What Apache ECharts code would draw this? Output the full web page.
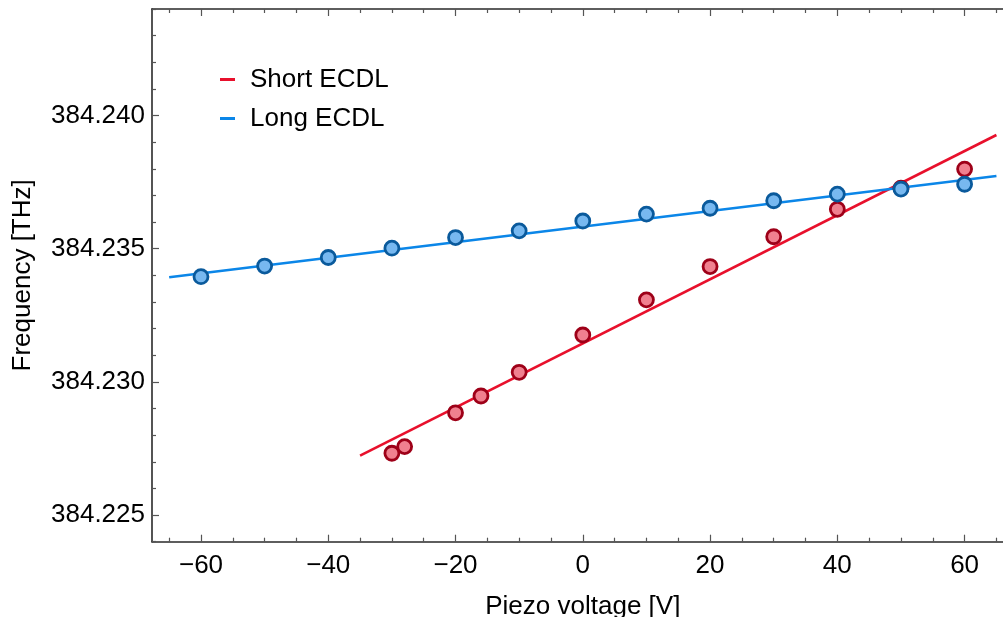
<!DOCTYPE html>
<html>
<head>
<meta charset="utf-8">
<script src="https://cdn.jsdelivr.net/npm/echarts@6/dist/echarts.min.js"></script>
<style>
html, body { margin: 0; padding: 0; overflow: hidden; background: #fff; }
#chart { width: 1020px; height: 617px; }
</style>
</head>
<body>
<div id="chart"></div>
<script>
// ---- data ----
const shortX = [-30, -28, -20, -16, -10, 0, 10, 20, 30, 40, 50, 60];
const shortY = [384.22732, 384.22757, 384.22884, 384.22947, 384.23036, 384.23176,
                384.23308, 384.23433, 384.23545, 384.23648, 384.23727, 384.23799];
const longX = [-60, -50, -40, -30, -20, -10, 0, 10, 20, 30, 40, 50, 60];
const longY = [384.23395, 384.23435, 384.23467, 384.23502, 384.23542, 384.23567, 384.23604,
               384.23630, 384.23652, 384.23680, 384.23705, 384.23724, 384.23742];
const shortFitX = [-35, 65];
const shortFitY = [384.22723, 384.23927];
const longFitX = [-65, 65];
const longFitY = [384.23393, 384.23773];

const xMajorTicks = [-60, -40, -20, 0, 20, 40, 60];
const xMinorTicks = [-65, -55, -50, -45, -35, -30, -25, -15, -10, -5, 5, 10, 15, 25, 30, 35, 45, 50, 55, 65];
const yMajorTicks = [384.225, 384.230, 384.235, 384.240];
const yMinorTicks = [384.224, 384.226, 384.227, 384.228, 384.229, 384.231, 384.232, 384.233, 384.234,
                     384.236, 384.237, 384.238, 384.239, 384.241, 384.242, 384.243, 384.244];

const names = ['Short ECDL', 'Long ECDL'];
const xName = 'Piezo voltage [V]';
const yName = 'Frequency [THz]';

// ---- styling ----
const FONT = 'Liberation Sans, Arial, sans-serif';
const RED_LINE = '#e8102c', RED_FILL = '#f0808f', RED_EDGE = '#9e0018';
const BLUE_LINE = '#0b86e8', BLUE_FILL = '#77b8f0', BLUE_EDGE = '#0a5a9c';
const AX = '#2a2a2a', TK = '#555';

const pairs = (xs, ys) => xs.map((x, i) => [x, ys[i]]);

const xMin = -67.7, xMax = 67.7, yMin = 384.224, yMax = 384.244;

function xAxisDef(pos, ticks, len, showLine, showLabel) {
  return {
    type: 'value', position: pos, min: xMin, max: xMax,
    axisLine: { show: showLine, onZero: false, lineStyle: { color: AX, width: 1.6 } },
    axisTick: { show: true, inside: true, length: len, customValues: ticks, lineStyle: { color: TK, width: 1.2 } },
    axisLabel: showLabel ? {
      show: true, customValues: ticks, margin: 11, color: '#000', fontSize: 26, fontFamily: FONT,
      formatter: v => String(v).replace('-', '\u2212')
    } : { show: false },
    splitLine: { show: false },
    name: showLabel ? xName : '', nameLocation: 'middle', nameGap: 52,
    nameTextStyle: { color: '#000', fontSize: 26, fontFamily: FONT }
  };
}
function yAxisDef(ticks, len, showLine, showLabel) {
  return {
    type: 'value', position: 'left', min: yMin, max: yMax,
    axisLine: { show: showLine, onZero: false, lineStyle: { color: AX, width: 1.6 } },
    axisTick: { show: true, inside: true, length: len, customValues: ticks, lineStyle: { color: TK, width: 1.2 } },
    axisLabel: showLabel ? {
      show: true, customValues: ticks, margin: 7, color: '#000', fontSize: 26, fontFamily: FONT,
      formatter: v => v.toFixed(3)
    } : { show: false },
    splitLine: { show: false },
    name: showLabel ? yName : '', nameLocation: 'middle', nameGap: 116, nameRotate: 90,
    nameTextStyle: { color: '#000', fontSize: 26, fontFamily: FONT }
  };
}

const chart = echarts.init(document.getElementById('chart'), null, { renderer: 'canvas' });
chart.setOption({
  animation: false,
  backgroundColor: '#fff',
  grid: { left: 152, top: 9, right: 6.4, bottom: 75.3, containLabel: false, outerBoundsMode: 'none' },
  legend: {
    data: [
      { name: names[0], icon: 'path://M0,0H15V3H0Z', itemStyle: { color: RED_LINE } },
      { name: names[1], icon: 'path://M0,0H15V3H0Z', itemStyle: { color: BLUE_LINE } }
    ],
    orient: 'vertical', left: 220, top: 65, padding: 0, itemWidth: 15, itemHeight: 3, itemGap: 10,
    selectedMode: false,
    textStyle: { color: '#000', fontSize: 26, fontFamily: FONT, padding: [0, 0, 0, 10], lineHeight: 29 }
  },
  xAxis: [
    xAxisDef('bottom', xMajorTicks, 7, true, true),
    xAxisDef('bottom', xMinorTicks, 4, false, false),
    xAxisDef('top', xMajorTicks, 7, true, false),
    xAxisDef('top', xMinorTicks, 4, false, false)
  ],
  yAxis: [
    yAxisDef(yMajorTicks, 7, true, true),
    yAxisDef(yMinorTicks, 4, false, false)
  ],
  series: [
    { name: names[0], type: 'line', data: pairs(shortFitX, shortFitY), showSymbol: false,
      lineStyle: { color: RED_LINE, width: 2.6 }, itemStyle: { color: RED_LINE }, z: 2 },
    { name: names[1], type: 'line', data: pairs(longFitX, longFitY), showSymbol: false,
      lineStyle: { color: BLUE_LINE, width: 2.6 }, itemStyle: { color: BLUE_LINE }, z: 2 },
    { name: 'Short data', type: 'scatter', data: pairs(shortX, shortY), symbol: 'circle', symbolSize: 14,
      itemStyle: { color: RED_FILL, borderColor: RED_EDGE, borderWidth: 2.8, opacity: 1 }, z: 3 },
    { name: 'Long data', type: 'scatter', data: pairs(longX, longY), symbol: 'circle', symbolSize: 14,
      itemStyle: { color: BLUE_FILL, borderColor: BLUE_EDGE, borderWidth: 2.8, opacity: 1 }, z: 4 }
  ]
});
</script>
</body>
</html>
